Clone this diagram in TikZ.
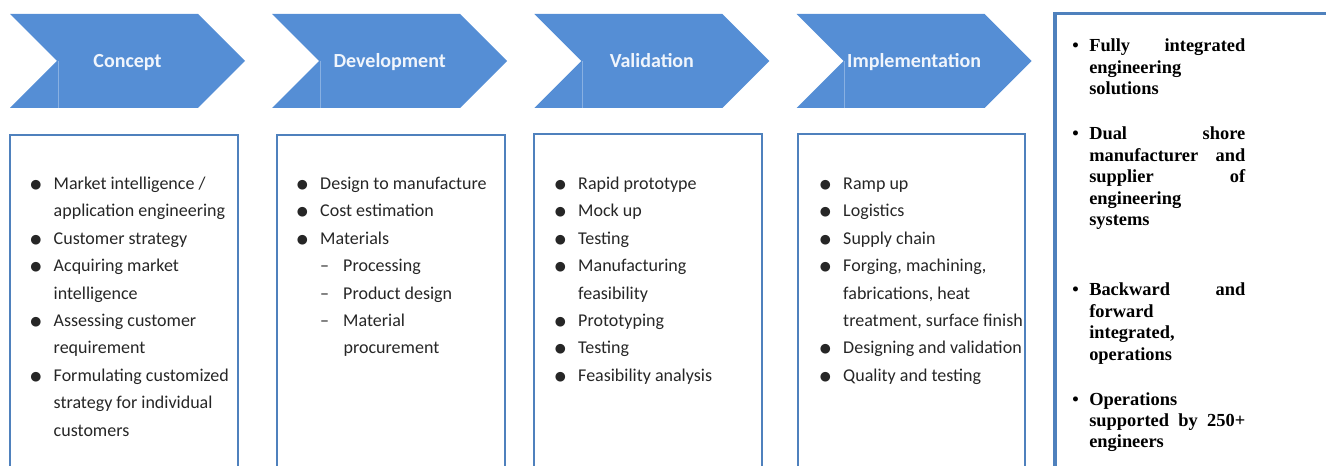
\documentclass[tikz,border=0pt]{standalone}
\usepackage{fontspec}
\setmainfont{Carlito}
\newfontfamily\timesfont{Liberation Serif}
\newfontfamily\dotfont{DejaVu Sans}
\usepackage{tikz}
\usetikzlibrary{shapes.symbols,positioning,calc}
\definecolor{chevblue}{RGB}{85,142,213}
\definecolor{boxblue}{RGB}{79,129,189}
\definecolor{chevtext}{RGB}{240,245,252}

% list helpers
\newcommand{\bul}{\makebox[17.6pt][l]{\raisebox{0.8pt}{\dotfont\fontsize{9.5}{9.5}\selectfont ●}}}
\newcommand{\subind}{\hspace*{17.6pt}}
\newcommand{\dsh}{\subind\makebox[17.25pt][l]{–}}
\newcommand{\rbul}{\makebox[12.75pt][l]{\textbullet}}
\newcommand{\rind}{\hspace*{12.75pt}}
\newcommand{\jline}[1]{\makebox[117pt][s]{#1}}
\newenvironment{lines}{\begin{tabular}[t]{@{}l@{}}}{\end{tabular}}

\begin{document}
\begin{tikzpicture}[x=0.75pt, y=-0.75pt]
  \tikzstyle{chev} = [signal, signal to=east, signal from=west, signal pointer angle=90, fill=chevblue, minimum width=176.25pt, minimum height=70.5pt, inner sep=0pt, outer sep=0pt, text height=10.5pt, text depth=0pt, text=chevtext, font=\fontsize{15}{18}\selectfont\bfseries]
  \tikzstyle{seam} = [draw=chevblue!70!white, line width=0.4pt]
  \tikzstyle{frame} = [draw=boxblue, line width=1.5pt]
  \tikzstyle{list} = [anchor=base west, inner sep=0pt, text=black!85, font=\fontsize{13.5}{20.55}\selectfont]
  \tikzstyle{keypoints} = [anchor=base west, inner sep=0pt, text=black, font=\timesfont\fontsize{13.8}{16.1}\selectfont\bfseries]

  \useasboundingbox (0,0) rectangle (1326,466);

  % phases
  \node[chev] (concept) at (127.5,61) {Concept};
  \node[chev] (development) at (389.7,61) {Development};
  \node[chev] (validation) at (651.9,61) {Validation};
  \node[chev] (implementation) at (914.1,61) {Implementation};
  \draw[seam] ($(concept.center)+(-69.5,0)$) -- ++(0,47);
  \draw[seam] ($(development.center)+(-69.5,0)$) -- ++(0,47);
  \draw[seam] ($(validation.center)+(-69.5,0)$) -- ++(0,47);
  \draw[seam] ($(implementation.center)+(-69.5,0)$) -- ++(0,47);

  % frames under the phases
  \draw[frame] (10,472) -- (10,135) -- (238,135) -- (238,472);
  \draw[frame] (277,472) -- (277,135) -- (505,135) -- (505,472);
  \draw[frame] (534,472) -- (534,134) -- (762,134) -- (762,472);
  \draw[frame] (798,472) -- (798,134) -- (1025,134) -- (1025,472);

  \node[list] (conceptlist) at (30,189.5) {\begin{lines}
    \bul Market intelligence /\\\subind application engineering\\
    \bul Customer strategy\\
    \bul Acquiring market\\\subind intelligence\\
    \bul Assessing customer\\\subind requirement\\
    \bul Formulating customized\\\subind strategy for individual\\\subind customers
  \end{lines}};
  \node[list] (developmentlist) at (296.5,189.5) {\begin{lines}
    \bul Design to manufacture\\
    \bul Cost estimation\\
    \bul Materials\\
    \dsh Processing\\
    \dsh Product design\\
    \dsh Material\\\subind\subind procurement
  \end{lines}};
  \node[list] (validationlist) at (554.5,189.5) {\begin{lines}
    \bul Rapid prototype\\
    \bul Mock up\\
    \bul Testing\\
    \bul Manufacturing\\\subind feasibility\\
    \bul Prototyping\\
    \bul Testing\\
    \bul Feasibility analysis
  \end{lines}};
  \node[list] (implementationlist) at (819.5,189.5) {\begin{lines}
    \bul Ramp up\\
    \bul Logistics\\
    \bul Supply chain\\
    \bul Forging, machining,\\\subind fabrications, heat\\\subind treatment, surface finish\\
    \bul Designing and validation\\
    \bul Quality and testing
  \end{lines}};

  % summary panel
  \draw[draw=boxblue, line width=3pt] (1054.5,472) -- (1054.5,12);
  \draw[draw=boxblue, line width=2.5pt] (1053,13.2) -- (1330,13.2);
  \node[keypoints] (fully) at (1072,52) {\begin{lines}\rbul\jline{Fully integrated}\\\rind engineering\\\rind solutions\end{lines}};
  \node[keypoints] (dualshore) at (1072,140) {\begin{lines}\rbul\jline{Dual shore}\\\rind\jline{manufacturer and}\\\rind\jline{supplier of}\\\rind engineering\\\rind systems\end{lines}};
  \node[keypoints] (backward) at (1072,296) {\begin{lines}\rbul\jline{Backward and}\\\rind forward\\\rind integrated,\\\rind operations\end{lines}};
  \node[keypoints] (operations) at (1072,405) {\begin{lines}\rbul Operations\\\rind\jline{supported by 250+}\\\rind engineers\end{lines}};
\end{tikzpicture}
\end{document}
